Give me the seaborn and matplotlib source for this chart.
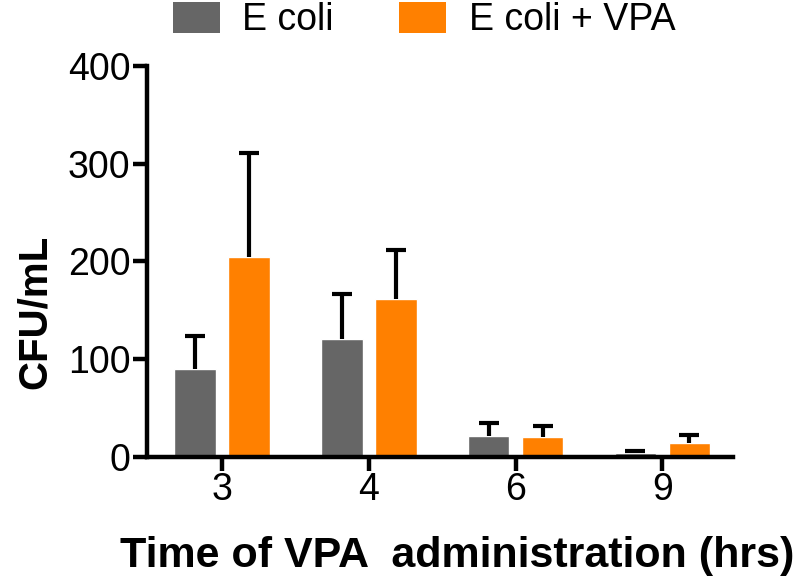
import matplotlib
matplotlib.use('Agg')
import matplotlib.pyplot as plt
import pandas as pd
import seaborn as sns
from matplotlib.patches import Patch

# Values
times = ['3', '4', '6', '9']
ecoli = [89.5, 121, 21, 4]
ecoli_err = [34, 46, 14, 1.5]
ecoli_vpa = [205, 162, 20, 14]
ecoli_vpa_err = [106, 50, 11, 8]
groups = ['E coli', 'E coli + VPA']
colors = ['#666666', '#FF8000']

df = pd.DataFrame({
  'time': times * 2,
  'cfu': ecoli + ecoli_vpa,
  'err': ecoli_err + ecoli_vpa_err,
  'group': [groups[0]] * 4 + [groups[1]] * 4,
})

sns.set_style('ticks', {'axes.edgecolor': 'black', 'text.color': 'black',
                        'xtick.color': 'black', 'ytick.color': 'black',
                        'axes.labelcolor': 'black'})
plt.rcParams['font.family'] = ['Liberation Sans', 'DejaVu Sans']

fig = plt.figure(figsize=(8, 5.81), dpi=100)
ax = fig.add_axes([0.184, 0.214, 0.732, 0.672])

sns.barplot(data=df, x='time', y='cfu', hue='group', order=times,
            hue_order=groups, palette=colors, errorbar=None, width=0.736,
            gap=0.23, saturation=1, legend=False, ax=ax)

# one-sided error bars (up only)
for cont, g in zip(ax.containers, groups):
  sub = df[df['group'] == g]
  xs = [p.get_x() + p.get_width() / 2 for p in cont.patches]
  eb = ax.errorbar(xs, sub['cfu'], yerr=[[0] * len(xs), sub['err']],
                   fmt='none', ecolor='black', elinewidth=3, capsize=7.5,
                   capthick=3, zorder=1)
  eb[1][0].set_visible(False)

ax.set_ylim(0, 400)
ax.set_xlim(-0.51, 3.48)
ax.set_yticks([0, 100, 200, 300, 400])
for s in ['left', 'bottom']:
  ax.spines[s].set_linewidth(3.2)
sns.despine(ax=ax)
ax.tick_params(axis='both', width=3.2, length=10, labelsize=27,
               colors='black')
ax.tick_params(axis='x', pad=1)
ax.tick_params(axis='y', pad=2)

ax.set_xlabel('Time of VPA  administration (hrs)', fontsize=31,
              fontweight='bold', labelpad=20, x=0.53)
ax.set_ylabel('CFU/mL', fontsize=29, fontweight='bold')
ax.yaxis.set_label_coords(-0.16, 0.37)

handles = [Patch(facecolor=c, edgecolor='none') for c in colors]
fig.legend(handles, groups, loc='upper center', bbox_to_anchor=(0.53, 1.055),
           ncol=2, frameon=False, fontsize=27, handlelength=1.25,
           handleheight=0.9, handletextpad=0.6, columnspacing=1.75)

fig.savefig('out.png', dpi=100)
